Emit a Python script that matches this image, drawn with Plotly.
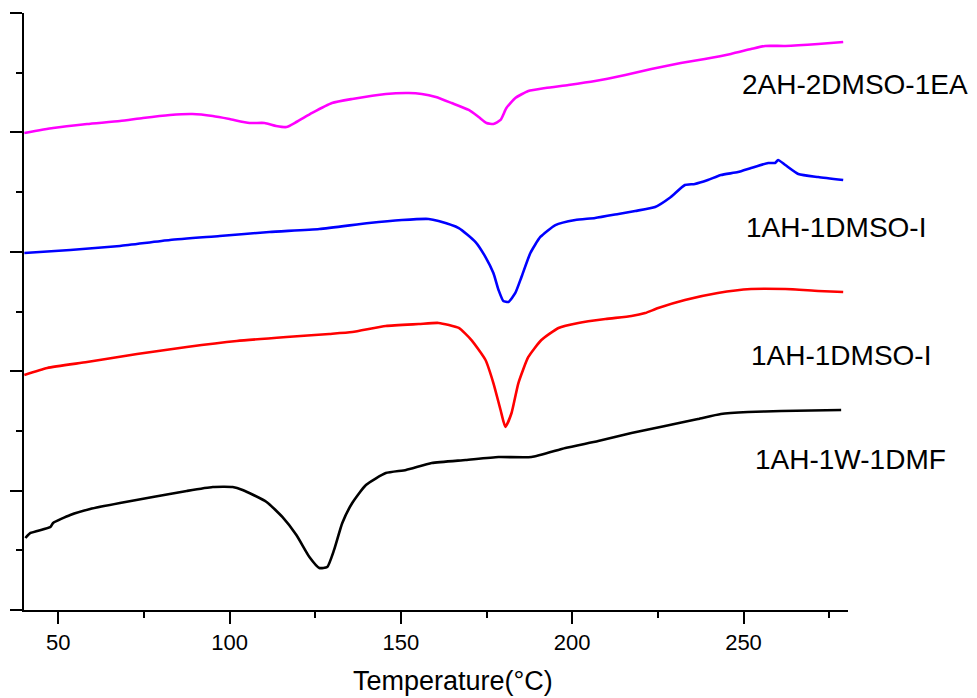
import plotly.graph_objects as go

# Temperature (°C) and heat-flow (arbitrary units, stacked offsets)
t_ea = [40.1, 48.5, 58.4, 68.0, 74.7, 82.6, 89.2, 95.1, 100.0, 105.8, 110.2, 113.6, 116.6, 119.5,
        124.1, 129.9, 135.8, 145.6, 152.3, 156.1, 160.2, 164.8, 169.8, 172.7, 175.0, 177.0, 179.1,
        180.8, 183.4, 187.2, 192.2, 198.9, 206.7, 215.5, 223.1, 231.7, 238.7, 246.3, 252.2, 256.3,
        262.2, 271.8, 279.1]
y_ea = [3.995, 4.037, 4.070, 4.095, 4.121, 4.146, 4.154, 4.137, 4.112, 4.079, 4.079, 4.054, 4.045,
        4.087, 4.163, 4.246, 4.280, 4.322, 4.330, 4.322, 4.296, 4.246, 4.188, 4.129, 4.079, 4.070,
        4.104, 4.204, 4.288, 4.347, 4.372, 4.397, 4.430, 4.481, 4.531, 4.581, 4.615, 4.657, 4.698,
        4.724, 4.724, 4.740, 4.757]

t_blue = [40.1, 53.5, 68.0, 82.6, 97.1, 111.6, 126.2, 140.7, 150.3, 158.1, 161.0, 166.9, 171.8,
          174.7, 177.0, 178.5, 179.9, 181.4, 183.4, 185.2, 187.8, 190.7, 195.1, 200.9, 206.7, 213.5,
          218.4, 224.2, 228.8, 232.9, 235.8, 239.6, 243.4, 248.4, 252.2, 257.2, 259.2, 260.1, 262.2,
          266.0, 271.8, 279.1]
y_blue = [2.990, 3.015, 3.049, 3.099, 3.132, 3.166, 3.191, 3.241, 3.266, 3.275, 3.258, 3.199, 3.082,
          2.956, 2.822, 2.680, 2.588, 2.580, 2.655, 2.789, 2.990, 3.124, 3.224, 3.266, 3.283, 3.317,
          3.342, 3.375, 3.459, 3.559, 3.568, 3.601, 3.643, 3.668, 3.702, 3.744, 3.744, 3.769, 3.727,
          3.652, 3.626, 3.601]

t_red = [40.1, 46.8, 58.4, 73.0, 87.5, 102.1, 116.6, 129.1, 135.8, 145.6, 155.2, 161.0, 166.9, 170.6,
         174.7, 177.0, 179.1, 180.5, 182.3, 184.3, 187.2, 191.0, 196.0, 201.8, 209.7, 217.3, 221.3,
         225.1, 232.9, 242.5, 252.2, 262.2, 271.8, 279.1]
y_red = [1.968, 2.027, 2.077, 2.144, 2.203, 2.253, 2.286, 2.312, 2.328, 2.379, 2.395, 2.404, 2.362,
         2.261, 2.094, 1.901, 1.675, 1.533, 1.650, 1.901, 2.119, 2.261, 2.362, 2.404, 2.437, 2.462,
         2.487, 2.529, 2.596, 2.655, 2.688, 2.688, 2.672, 2.663]

t_dmf = [40.4, 41.9, 47.7, 48.5, 53.5, 59.3, 68.0, 77.6, 87.5, 95.1, 100.9, 103.8, 110.8, 115.4,
         119.5, 123.3, 126.2, 128.5, 130.5, 132.9, 135.8, 139.8, 145.6, 151.5, 159.0, 168.9, 178.5,
         188.1, 198.0, 207.6, 217.3, 227.1, 236.7, 243.4, 251.3, 261.0, 278.5]
y_dmf = [0.603, 0.645, 0.695, 0.729, 0.796, 0.846, 0.896, 0.946, 0.997, 1.030, 1.030, 1.005, 0.905,
         0.779, 0.628, 0.444, 0.352, 0.360, 0.503, 0.729, 0.896, 1.047, 1.147, 1.173, 1.231, 1.256,
         1.281, 1.281, 1.357, 1.415, 1.482, 1.541, 1.600, 1.642, 1.658, 1.667, 1.675]

series = [
    ("2AH-2DMSO-1EA", t_ea, y_ea, "#FF00FF"),
    ("1AH-1DMSO-I", t_blue, y_blue, "#0000FF"),
    ("1AH-1DMSO-I", t_red, y_red, "#FF0000"),
    ("1AH-1W-1DMF", t_dmf, y_dmf, "#000000"),
]
x_ticks = [50, 100, 150, 200, 250]
labels = ["2AH-2DMSO-1EA", "1AH-1DMSO-I", "1AH-1DMSO-I", "1AH-1W-1DMF"]
label_pos = [(1.0085, 0.881), (0.985, 0.6415), (0.9915, 0.4255), (1.0036, 0.2513)]

fig = go.Figure()
for name, t, y, c in series:
    fig.add_trace(go.Scatter(x=t, y=y, mode="lines", name=name,
                             line=dict(color=c, width=2.6, shape="spline", smoothing=0.5)))

for txt, (lx, ly) in zip(labels, label_pos):
    fig.add_annotation(x=lx, y=ly, xref="paper", yref="paper", text=txt, showarrow=False,
                       xanchor="center", yanchor="middle",
                       font=dict(family="Liberation Sans, Arial", size=28, color="black"))

fig.add_annotation(x=0.521, y=-0.119, xref="paper", yref="paper", text="Temperature(°C)",
                   showarrow=False, xanchor="center", yanchor="middle",
                   font=dict(family="Liberation Sans, Arial", size=27, color="black"))

# the page body adds an 8 px offset, so margins are shifted accordingly
fig.update_layout(
    width=977, height=698,
    margin=dict(l=16, r=137, t=5, b=96, autoexpand=False),
    plot_bgcolor="white", paper_bgcolor="white",
    showlegend=False,
    xaxis=dict(range=[40, 280.5], tickvals=x_ticks, ticks="outside", ticklen=12, tickwidth=2,
               tickcolor="black", showline=True, linecolor="black", linewidth=2, showgrid=False,
               zeroline=False, automargin=False,
               minor=dict(dtick=25, tick0=25, ticks="outside", ticklen=6,
                          tickwidth=2, tickcolor="black"),
               tickfont=dict(family="Liberation Sans, Arial", size=22, color="black")),
    yaxis=dict(range=[0, 5], dtick=1, tick0=0, ticks="outside", ticklen=12, tickwidth=2,
               tickcolor="black", showline=True, linecolor="black", linewidth=2, showgrid=False,
               zeroline=False, showticklabels=False, automargin=False,
               minor=dict(dtick=0.5, ticks="outside", ticklen=6, tickwidth=2, tickcolor="black")),
)

fig.write_html("out.html")
